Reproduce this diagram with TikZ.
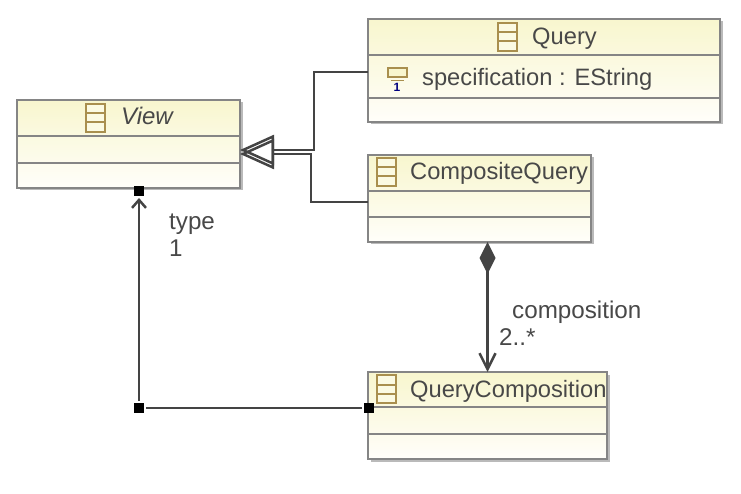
\documentclass[tikz,border=0pt]{standalone}
\usepackage{fontspec}
\setmainfont{Liberation Sans}
\usetikzlibrary{positioning,arrows.meta,shadows}
\definecolor{boxline}{HTML}{858585}
\definecolor{boxtop}{HTML}{F8F6CE}
\definecolor{boxbottom}{HTML}{FFFEFA}
\definecolor{iconline}{HTML}{A98F4E}
\definecolor{linkline}{HTML}{444444}
\definecolor{labeltext}{HTML}{484848}
\tikzset{
classbox/.style={
draw=boxline,
line width=2.5pt,
outer sep=0pt,
inner sep=0pt,
top color=boxtop,
bottom color=boxbottom,
drop shadow={shadow xshift=2.5pt,shadow yshift=-2.5pt,fill=black!45,opacity=0.6}
},
compline/.style={draw=boxline,line width=2.5pt},
labeltxt/.style={anchor=base west,inner sep=0pt,text=labeltext,font=\fontsize{23.7}{28}\selectfont},
linktxt/.style={labeltxt,font=\fontsize{24.2}{28}\selectfont},
handle/.style={fill=black,minimum size=10pt,inner sep=0pt,outer sep=2pt},
link/.style={draw=linkline,line width=2.5pt},
genlink/.style={link,-{Triangle[open,length=34pt,width=30pt,line width=2.5pt]}},
pics/classicon/.style={code={
\draw[draw=iconline,line width=2.5pt,fill=boxtop!60] (0,0) rectangle (19,28);
\draw[draw=iconline,line width=2pt] (0,9.5) -- (19,9.5) (0,18.5) -- (19,18.5);
}}
}
\begin{document}
\begin{tikzpicture}[x=1pt,y=-1pt]
\useasboundingbox (0,0) rectangle (741,494);
% classes
\node[classbox,minimum width=223pt,minimum height=88pt] (view) at (128.5,144) {};
\node[classbox,minimum width=352pt,minimum height=103pt] (query) at (544,70.5) {};
\node[classbox,minimum width=223pt,minimum height=87pt,below=33pt of query.south west,anchor=north west] (composite) {};
\node[classbox,minimum width=239pt,minimum height=87pt,below=130pt of composite.south west,anchor=north west] (querycomp) {};
% compartments
\draw[compline] (view.west |- 0,136) -- (view.east |- 0,136);
\draw[compline] (view.west |- 0,163) -- (view.east |- 0,163);
\draw[compline] (query.west |- 0,55) -- (query.east |- 0,55);
\draw[compline] (query.west |- 0,98) -- (query.east |- 0,98);
\draw[compline] (composite.west |- 0,191) -- (composite.east |- 0,191);
\draw[compline] (composite.west |- 0,217) -- (composite.east |- 0,217);
\draw[compline] (querycomp.west |- 0,407) -- (querycomp.east |- 0,407);
\draw[compline] (querycomp.west |- 0,434) -- (querycomp.east |- 0,434);
% icons
\pic at (86,104) {classicon};
\pic at (498,23) {classicon};
\pic at (377,158) {classicon};
\pic at (377,375) {classicon};
\draw[draw=iconline,line width=2pt,fill=boxtop] (388,68) rectangle (407,77);
\draw[draw=iconline,line width=1pt] (391,81) -- (404,81);
\node[inner sep=0pt,text=blue!50!black,font=\bfseries\fontsize{12}{14}\selectfont] (attrmult) at (397,87) {1};
% texts
\node[labeltxt,font=\itshape\fontsize{24}{28}\selectfont] (viewname) at (121,125) {View};
\node[labeltxt] (queryname) at (532,45) {Query};
\node[labeltxt] (attrname) at (422,86) {specification : EString};
\node[labeltxt] (compositename) at (410,180) {CompositeQuery};
\node[labeltxt] (querycompname) at (410,397) {QueryComposition};
\node[linktxt] (typename) at (169,230) {type};
\node[linktxt] (typemult) at (169,257) {1};
\node[linktxt] (compname) at (512,318) {composition};
\node[linktxt] (compmult) at (499,345) {2..*};
% generalisations
\coordinate (joinquery) at (314,150);
\coordinate (joincomposite) at (311,154);
\draw[genlink] ([yshift=-1.5pt]query.west) -| (joinquery) -- ([yshift=-6pt]view.east);
\draw[genlink] ([yshift=-3.5pt]composite.west) -| (joincomposite) -- ([yshift=-10pt]view.east);
% composition
\draw[link,{Diamond[length=32pt,width=16pt,fill=linkline]}-{Straight Barb[length=16pt,width=16pt,line width=2.5pt]}] (composite.south -| querycomp.north) -- (querycomp.north);
% reference with handles
\node[handle] (typeend) at (139,191) {};
\node[handle] (typecorner) at (139,408) {};
\node[handle] (typestart) at (369,408) {};
\draw[link] (typestart) -- (typecorner);
\draw[link,-{Straight Barb[length=8pt,width=14pt,line width=2.5pt]}] (typecorner) -- (typeend);
\end{tikzpicture}
\end{document}
